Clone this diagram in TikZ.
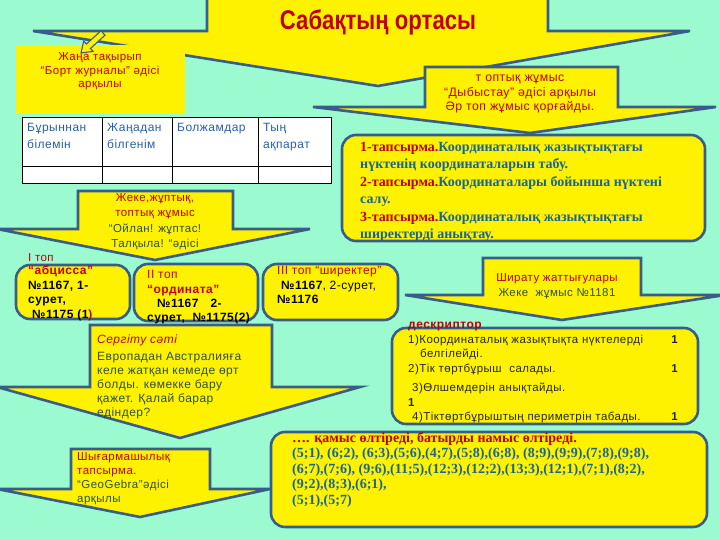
\documentclass[tikz,border=0pt]{standalone}
\usepackage{fontspec}
\setmainfont{Liberation Sans}[LetterSpace=4]
\newfontfamily\titlefont{Liberation Sans}[FakeStretch=0.82]
\newfontfamily\taskfont{Liberation Serif}

\definecolor{mint}{RGB}{155,250,208}
\definecolor{edge}{RGB}{56,93,138}
\definecolor{darkred}{RGB}{192,0,0}
\definecolor{tealblue}{RGB}{25,100,150}
\definecolor{headblue}{RGB}{40,95,170}
\definecolor{darkgreen}{RGB}{45,80,60}

\tikzset{
  callout/.style={draw=edge, fill=yellow, line width=2.6pt},
  panel/.style={callout, rounded corners=14pt},
  txt/.style={inner sep=0pt, align=left, font=\fontsize{11.5}{14}\selectfont},
  head/.style={txt, text=headblue, font=\fontsize{12}{17}\selectfont},
  task/.style={inner sep=0pt, align=left, text=tealblue,
    font=\taskfont\bfseries\fontsize{14}{17.5}\selectfont}
}

\begin{document}
\begin{tikzpicture}[x=1pt,y=-1pt]
\useasboundingbox (0,0) rectangle (720,540);
\fill[mint] (0,0) rectangle (720,540);
\clip (0,0) rectangle (720,540);

% title callout
\draw[callout] (207,-5) -- (207,31) -- (33,31) -- (378,86) -- (690,31) -- (548,31) -- (548,-5) -- cycle;
\node[inner sep=0pt, text=darkred, font=\titlefont\bfseries\fontsize{27}{30}\selectfont] (title) at (378,22) {Сабақтың ортасы};

% new topic
\fill[yellow] (16,45) rectangle (185,113);
\node[txt, align=center, text=darkred, anchor=north, font=\fontsize{11.5}{13.5}\selectfont] (newtopic) at (100,52.5)
  {Жаңа тақырып\\“Борт журналы” әдісі\\арқылы};
% pointer from the title to the topic box
\draw[draw=edge, fill=yellow, line width=1.1pt, line join=miter]
  (101,30.8) -- (86.4,44) -- (83.7,41.1) -- (81,53) -- (93.1,51.4) -- (90.4,48.5) -- (105,35.2) -- cycle;

% table
\draw[fill=white, line width=0.8pt] (22,117) rectangle (331,183);
\draw[line width=0.8pt] (22,166) -- (331,166) (102,117) -- (102,183) (172,117) -- (172,183) (258,117) -- (258,183);
\node[head, anchor=north west] (h1) at (27,123) {Бұрыннан\\білемін};
\node[head, anchor=north west] (h2) at (107,123) {Жаңадан\\білгенім};
\node[head, anchor=north west] (h3) at (177,123) {Болжамдар};
\node[head, anchor=north west] (h4) at (263,123) {Тың\\ақпарат};

% group work callout
\draw[callout] (425,67) -- (425,107) -- (313,107) -- (530,133) -- (716,107) -- (618,107) -- (618,67) -- cycle;
\node[txt, align=center, text=darkred, anchor=north, font=\fontsize{12.3}{14.5}\selectfont] (groupwork) at (520,75)
  {т оптық жұмыс\\“Дыбыстау” әдісі арқылы\\Әр топ жұмыс қорғайды.};

% tasks
\draw[panel] (342,135) rectangle (705,241);
\node[task, anchor=north west] (tasks) at (360,142)
  {\textcolor{darkred}{1-тапсырма.}Координаталық жазықтықтағы\\
   нүктенің координаталарын табу.\\
   \textcolor{darkred}{2-тапсырма.}Координаталары бойынша нүктені\\
   салу.\\
   \textcolor{darkred}{3-тапсырма.}Координаталық жазықтықтағы\\
   ширектерді анықтау.};

% pair work callout
\draw[callout] (78,191) -- (78,229) -- (-3,229) -- (155,260) -- (310,229) -- (233,229) -- (233,191) -- cycle;
\node[txt, align=center, anchor=north, font=\fontsize{11.5}{15.5}\selectfont] (pairwork) at (155,193)
  {\textcolor{darkred}{Жеке,жұптық,}\\\textcolor{darkred}{топтық жұмыс}\\
   \textcolor{darkgreen}{“Ойлан! жұптас!}\\\textcolor{darkgreen}{Талқыла! “әдісі}};

% groups
\node[txt, anchor=base west, text=darkred] (g1lbl) at (28,261) {I топ};
\draw[panel] (16,265) rectangle (130,319);
\draw[panel] (134,264) rectangle (258,321);
\draw[panel] (263,264) rectangle (398,320);
\node[txt, anchor=north west, font=\bfseries\fontsize{12}{14.7}\selectfont] (g1) at (28,265.5)
  {\textcolor{darkred}{“абцисса”}\\№1167, 1-\\сурет,\\\hspace*{4pt}№1175 (1\textcolor{darkred}{)}};
\node[txt, anchor=north west, font=\fontsize{12}{14.3}\selectfont] (g2) at (147,270.5)
  {\textcolor{darkred}{II топ}\\\textcolor{darkred}{\bfseries“ордината”}\\
   \hspace*{10pt}\textbf{№1167\quad 2-}\\\textbf{сурет,\ \ №1175(2)}};
\node[txt, anchor=north west, font=\fontsize{12}{14.5}\selectfont] (g3) at (277,266.5)
  {\textcolor{darkred}{III топ “ширектер”}\\\hspace*{4pt}\textbf{№1167}, 2-сурет,\\\textbf{№1176}};

% warm-up callout
\draw[callout] (90,325) -- (90,387) -- (-3,387) -- (180,438) -- (360,387) -- (272,387) -- (272,325) -- cycle;
\node[txt, anchor=north west, text=darkgreen, font=\fontsize{12}{14}\selectfont] (warmup) at (97,335)
  {\textcolor{darkred}{\itshape Сергіту сәті}\\[3pt]Европадан Австралияға\\келе жатқан кемеде өрт\\
   болды. көмекке бару\\қажет. Қалай барар\\едіндер?};

% exercises callout
\draw[callout] (483,258) -- (483,295) -- (405,295) -- (562,320) -- (725,295) -- (641,295) -- (641,258) -- cycle;
\node[txt, align=center, anchor=north, font=\fontsize{11.5}{15}\selectfont] (drill) at (557,273)
  {\textcolor{darkred}{Ширату жаттығулары}\\\textcolor{darkgreen}{Жеке\ \ жұмыс №1181}};

% descriptor
\draw[panel] (392,328) rectangle (698,424);
\node[txt, anchor=base west, text=darkred, font=\bfseries\fontsize{12}{14}\selectfont] (desclbl) at (408,328) {дескриптор};
\node[txt, anchor=north west, text width=270pt, text=black!85, font=\fontsize{11.5}{14.5}\selectfont] (desc) at (408,334.5)
  {1)Координаталық жазықтықта нүктелерді\hfill\textbf{1}\\
   \hspace*{12pt}белгілейді.\\
   2)Тік төртбұрыш\ \ салады.\hfill\textbf{1}\\[5pt]
   \hspace*{4pt}3)Өлшемдерін анықтайды.\\
   \textbf{1}\\
   \hspace*{4pt}4)Тіктөртбұрыштың периметрін табады.\hfill\textbf{1}};

% creative task callout
\draw[callout] (71,449) -- (71,489) -- (-3,489) -- (140,517) -- (270,489) -- (210,489) -- (210,449) -- cycle;
\node[txt, anchor=north west, font=\fontsize{11.5}{14}\selectfont] (creative) at (77,452.5)
  {\textcolor{darkred}{Шығармашылық}\\\textcolor{darkred}{тапсырма.}\\
   \textcolor{darkgreen}{“GeoGebra”әдісі}\\\textcolor{darkgreen}{арқылы}};

% points
\draw[panel] (271,432) rectangle (707,527);
\node[task, anchor=north west, font=\taskfont\bfseries\fontsize{14}{15.5}\selectfont] (points) at (292,432)
  {\textcolor{darkred}{…. қамыс өлтіреді, батырды намыс өлтіреді.}\\
   (5;1), (6;2), (6;3),(5;6),(4;7),(5;8),(6;8), (8;9),(9;9),(7;8),(9;8),\\
   (6;7),(7;6), (9;6),(11;5),(12;3),(12;2),(13;3),(12;1),(7;1),(8;2),\\
   (9;2),(8;3),(6;1),\\
   (5;1),(5;7)};
\end{tikzpicture}
\end{document}
